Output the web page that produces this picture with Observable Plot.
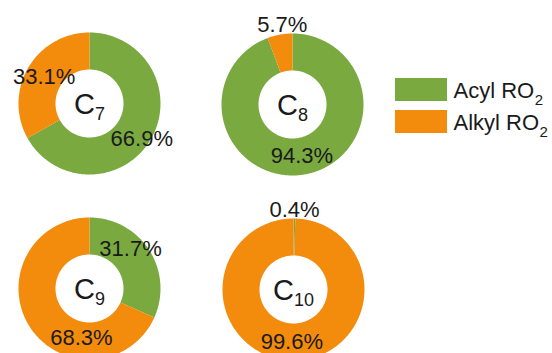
<!DOCTYPE html>
<html>
<head>
<meta charset="utf-8">
<script src="https://cdn.jsdelivr.net/npm/d3@7"></script>
<script src="https://cdn.jsdelivr.net/npm/@observablehq/plot@0.6"></script>
<style>
  html, body { margin: 0; padding: 0; background: #fff; }
  #chart { width: 552px; height: 353px; }
</style>
</head>
<body>
<div id="chart"></div>
<script>
// ---- data ----
const donutBase = ["C", "C", "C", "C"];
const donutSub = ["7", "8", "9", "10"];
const series = ["Acyl RO2", "Alkyl RO2"];
const seriesBase = ["Acyl RO", "Alkyl RO"];
const seriesSub = ["2", "2"];
const acyl = [66.9, 94.3, 31.7, 0.4];
const alkyl = [33.1, 5.7, 68.3, 99.6];

// ---- layout / style ----
const colors = ["#79a93f", "#f38b0c"];
const centersX = [89, 292, 89, 293];
const centersY = [103, 104, 288, 289];
const R = 71, r = 34;
const labelNudge = {
  "0-0": [7, 8.5], "0-1": [0, 0],
  "1-0": [0, 0], "1-1": [4, -1],
  "2-0": [-3, -11], "2-1": [36, 21],
  "3-0": [0, 0], "3-1": [-1, 0]
};
const font = "'Liberation Sans', Arial, Helvetica, sans-serif";
const ink = "#1a1a1a";

// ---- build slices (polygons) and labels ----
const pts = [];
const labels = [];
const valuesBySeries = [acyl, alkyl];
donutSub.forEach((d, i) => {
  const cx = centersX[i], cy = centersY[i];
  let start = 0;
  series.forEach((s, k) => {
    const v = valuesBySeries[k][i];
    const a0 = start * 2 * Math.PI / 100;
    const a1 = (start + v) * 2 * Math.PI / 100;
    const n = Math.max(2, Math.ceil((a1 - a0) / (Math.PI / 180)));
    const id = i + "-" + k;
    for (let j = 0; j <= n; j++) {
      const a = a0 + (a1 - a0) * j / n;
      pts.push({slice: id, series: s, x: cx + R * Math.sin(a), y: cy - R * Math.cos(a)});
    }
    for (let j = n; j >= 0; j--) {
      const a = a0 + (a1 - a0) * j / n;
      pts.push({slice: id, series: s, x: cx + r * Math.sin(a), y: cy - r * Math.cos(a)});
    }
    const am = (a0 + a1) / 2;
    const rl = v < 10 ? 80 : (R + r) / 2;
    const nd = labelNudge[id] || [0, 0];
    labels.push({
      text: v.toFixed(1) + "%",
      x: cx + rl * Math.sin(am) + nd[0],
      y: cy - rl * Math.cos(am) + nd[1]
    });
    start += v;
  });
});

// center labels: "C" + subscript number
const cFont = 29, subFont = 18;
const centerMain = [], centerSub = [];
donutSub.forEach((d, i) => {
  const wC = 0.722 * cFont, wS = 0.556 * subFont * d.length;
  const left = centersX[i] - (wC + wS) / 2;
  centerMain.push({text: donutBase[i], x: left, y: centersY[i] + 10.5});
  centerSub.push({text: d, x: left + wC, y: centersY[i] + 16});
});

// legend
const legX1 = 395, legX2 = 447, legY = [78, 110], legH = 23;
const legFont = 22, legSubFont = 15;
const legendRects = series.map((s, k) => ({series: s, x1: legX1, x2: legX2, y1: legY[k], y2: legY[k] + legH}));
const legendMain = series.map((s, k) => ({text: seriesBase[k], x: 453, y: legY[k] + 19}));
const legendSub = series.map((s, k) => ({text: seriesSub[k], x: 453 + 0.5 + (k === 0 ? 3.667 : 3.889) * legFont, y: legY[k] + 26}));

const chart = Plot.plot({
  width: 552,
  height: 353,
  margin: 0,
  x: {domain: [0, 552], range: [0, 552], axis: null},
  y: {domain: [0, 353], range: [0, 353], axis: null},
  color: {domain: series, range: colors},
  style: {fontFamily: font, background: "#fff", overflow: "visible"},
  marks: [
    Plot.line(pts, {x: "x", y: "y", z: "slice", fill: "series", stroke: "none", curve: "linear"}),
    Plot.text(labels, {x: "x", y: "y", text: "text", fontSize: 22, fill: ink}),
    Plot.text(centerMain, {x: "x", y: "y", text: "text", fontSize: cFont, fill: ink, textAnchor: "start", lineAnchor: "bottom"}),
    Plot.text(centerSub, {x: "x", y: "y", text: "text", fontSize: subFont, fill: ink, textAnchor: "start", lineAnchor: "bottom"}),
    Plot.rect(legendRects, {x1: "x1", x2: "x2", y1: "y1", y2: "y2", fill: "series"}),
    Plot.text(legendMain, {x: "x", y: "y", text: "text", fontSize: legFont, fill: ink, textAnchor: "start", lineAnchor: "bottom"}),
    Plot.text(legendSub, {x: "x", y: "y", text: "text", fontSize: legSubFont, fill: ink, textAnchor: "start", lineAnchor: "bottom"})
  ]
});
document.getElementById("chart").appendChild(chart);
</script>
</body>
</html>
